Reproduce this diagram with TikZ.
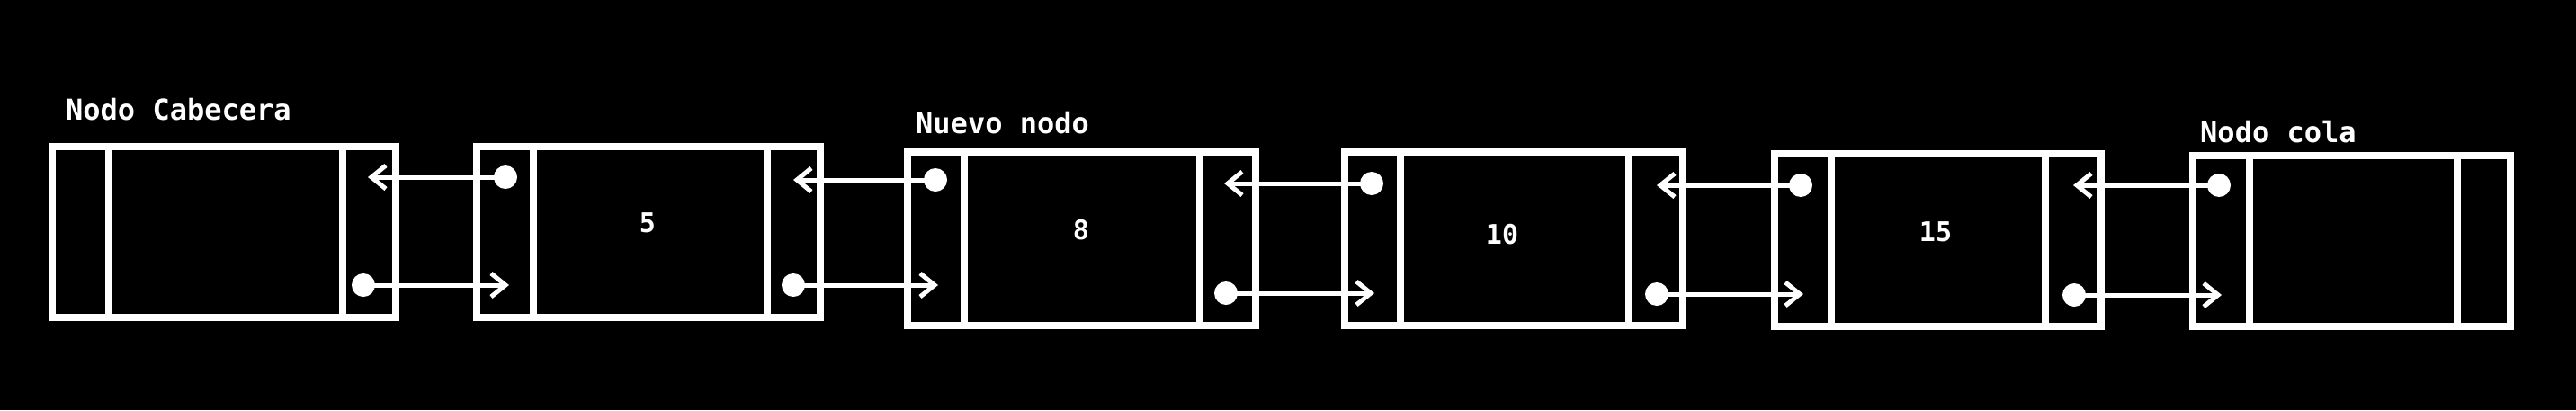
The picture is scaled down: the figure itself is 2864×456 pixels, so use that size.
\documentclass[tikz,border=0pt]{standalone}
\usepackage{fontspec}
\setmainfont{DejaVu Sans Mono}
\usetikzlibrary{arrows.meta}
\begin{document}
\begin{tikzpicture}[x=1pt,y=-1pt,
  cell/.style={draw=white,line width=8pt,rectangle,inner sep=0pt},
  lbl/.style={text=white,font=\fontsize{32}{38}\selectfont\bfseries,anchor=base west,inner sep=0pt},
  val/.style={text=white,font=\fontsize{30}{36}\selectfont\bfseries,inner sep=0pt},
  dotc/.style={circle,fill=white,inner sep=0pt,minimum size=26pt},
  link/.style={draw=white,line width=5pt,-{Straight Barb[length=16pt,width=26pt]}}]
\fill[black] (0,0) rectangle (2864,456);
% list nodes: outer box + middle cell
\node[cell,minimum width=382,minimum height=190] (n1) at (249,258) {};
\node[cell,minimum width=260,minimum height=190] (n1m) at (251,258) {};
\node[cell,minimum width=382,minimum height=190] (n2) at (721,258) {};
\node[cell,minimum width=260,minimum height=190] (n2m) at (723,258) {};
\node[cell,minimum width=387,minimum height=193] (n3) at (1202.5,265.5) {};
\node[cell,minimum width=262,minimum height=193] (n3m) at (1203,265.5) {};
\node[cell,minimum width=376,minimum height=193] (n4) at (1683,265.5) {};
\node[cell,minimum width=254,minimum height=193] (n4m) at (1684,265.5) {};
\node[cell,minimum width=363,minimum height=192] (n5) at (2154.5,267) {};
\node[cell,minimum width=238,minimum height=192] (n5m) at (2155,267) {};
\node[cell,minimum width=353,minimum height=190] (n6) at (2614.5,268) {};
\node[cell,minimum width=231,minimum height=190] (n6m) at (2616.5,268) {};
% values
\node[val] (v2) at (720,248) {5};
\node[val] (v3) at (1202,256) {8};
\node[val] (v4) at (1670,261) {10};
\node[val] (v5) at (2152,258) {15};
% labels
\node[lbl] (l1) at (73,133) {Nodo Cabecera};
\node[lbl] (l3) at (1018,148) {Nuevo nodo};
\node[lbl] (l6) at (2446,158) {Nodo cola};
% pointer dots
\node[dotc] (p2a) at (562,197) {};
\node[dotc] (p1b) at (404,317) {};
\node[dotc] (p3a) at (1040,200) {};
\node[dotc] (p2b) at (882,317) {};
\node[dotc] (p4a) at (1525,204) {};
\node[dotc] (p3b) at (1363,326) {};
\node[dotc] (p5a) at (2002,206) {};
\node[dotc] (p4b) at (1842,327) {};
\node[dotc] (p6a) at (2467,206) {};
\node[dotc] (p5b) at (2306,328) {};
% arrow tips
\coordinate (t1a) at (409,197);
\coordinate (t2b) at (566,317);
\coordinate (t2a) at (882,200);
\coordinate (t3b) at (1043,317);
\coordinate (t3a) at (1361,204);
\coordinate (t4b) at (1528,326);
\coordinate (t4a) at (1842,206);
\coordinate (t5b) at (2005,327);
\coordinate (t5a) at (2305,206);
\coordinate (t6b) at (2470,328);
% connectors
\draw[link] (p2a.center) -- (t1a);
\draw[link] (p1b.center) -- (t2b);
\draw[link] (p3a.center) -- (t2a);
\draw[link] (p2b.center) -- (t3b);
\draw[link] (p4a.center) -- (t3a);
\draw[link] (p3b.center) -- (t4b);
\draw[link] (p5a.center) -- (t4a);
\draw[link] (p4b.center) -- (t5b);
\draw[link] (p6a.center) -- (t5a);
\draw[link] (p5b.center) -- (t6b);
\end{tikzpicture}
\end{document}
